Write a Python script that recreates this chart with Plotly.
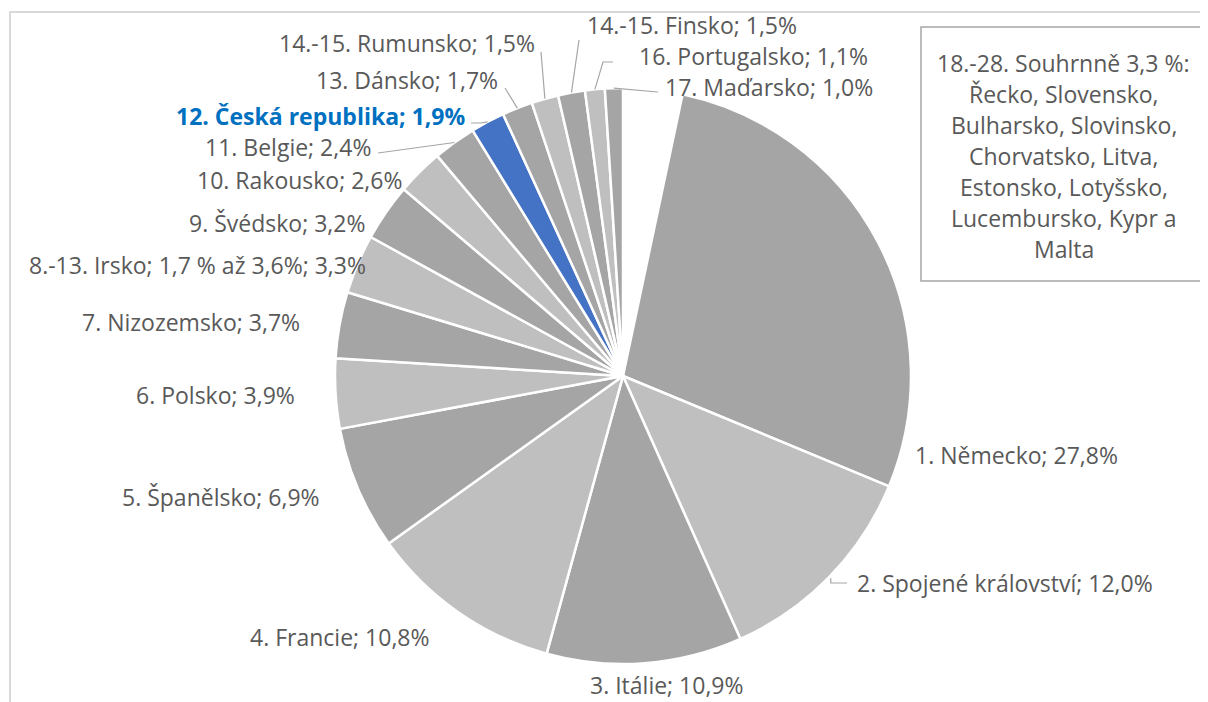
import math
import plotly.graph_objects as go

# ---------------- data ----------------
countries = ["Souhrnně", "Německo", "Spojené království", "Itálie", "Francie",
             "Španělsko", "Polsko", "Nizozemsko", "Irsko", "Švédsko", "Rakousko",
             "Belgie", "Česká republika", "Dánsko", "Rumunsko", "Finsko",
             "Portugalsko", "Maďarsko"]
ranks = ["18.-28.", "1.", "2.", "3.", "4.", "5.", "6.", "7.", "8.-13.", "9.", "10.",
         "11.", "12.", "13.", "14.-15.", "14.-15.", "16.", "17."]
shares = [3.3, 27.8, 12.0, 10.9, 10.8, 6.9, 3.9, 3.7, 3.3, 3.2, 2.6, 2.4, 1.9,
          1.7, 1.5, 1.5, 1.1, 1.0]
irsko_note = "1,7 % až 3,6%"
rest_countries = ["Řecko", "Slovensko", "Bulharsko", "Slovinsko", "Chorvatsko",
                  "Litva", "Estonsko", "Lotyšsko", "Lucembursko", "Kypr", "Malta"]

DARK, LIGHT, BLUE = "#A5A5A5", "#BFBFBF", "#4472C4"
colors = ["#FFFFFF"] + [DARK if i % 2 == 0 else LIGHT for i in range(len(shares) - 1)]
colors[countries.index("Česká republika")] = BLUE

def fmt(v):
    return f"{v:.1f}".replace(".", ",")

labels = []
for c, rk, v in zip(countries, ranks, shares):
    if c == "Irsko":
        labels.append(f"{rk} {c}; {irsko_note}; {fmt(v)}%")
    else:
        labels.append(f"{rk} {c}; {fmt(v)}%")

# ---------------- layout geometry (window pixels) ----------------
OFF = 8                      # default body margin of the page
W, H = 1208 - OFF, 702 - OFF  # figure size so it fits the window exactly
CX, CY, R = 623, 376, 288
FONT = "Open Sans"
FS = 23
TXT = "#595959"

def px(x):
    return (x - OFF) / W

def py(y):
    return 1 - (y - OFF) / H

# label anchor positions (pixels): x, y, xanchor
label_pos = {
    1: (913, 455, "left"),
    2: (855, 583, "left"),
    3: (667, 685, "center"),
    4: (432, 637, "right"),
    5: (322, 497, "right"),
    6: (297, 395, "right"),
    7: (302, 322, "right"),
    8: (368, 265, "right"),
    9: (367, 223, "right"),
    10: (404, 180, "right"),
    11: (373, 147, "right"),
    12: (467, 116, "right"),
    13: (500, 80, "right"),
    14: (537, 43, "right"),
    15: (585, 25, "left"),
    16: (637, 56, "left"),
    17: (663, 87, "left"),
}
# leader lines: points on the label side (pixels), line ends on the slice edge
leaders = {
    11: [(378, 153)],
    12: [(471, 123), (481, 123)],
    13: [(505, 88)],
    14: [(541, 52)],
    15: [(579, 40)],
    16: [(613, 62), (603, 62)],
    17: [(658, 92)],
}

total = sum(shares)
cum = 0.0
mids = []
for v in shares:
    mids.append(360.0 * (cum + v / 2) / total)
    cum += v

def edge_point(i, extra=0):
    a = math.radians(mids[i])
    return CX + (R + extra) * math.sin(a), CY - (R + extra) * math.cos(a)

fig = go.Figure()
fig.add_trace(go.Pie(
    values=shares,
    labels=countries,
    sort=False,
    direction="clockwise",
    rotation=0,
    marker=dict(colors=colors, line=dict(color="#FFFFFF", width=2.5)),
    textinfo="none",
    hoverinfo="label+value",
    showlegend=False,
    domain=dict(x=[px(CX - R), px(CX + R)], y=[py(CY + R), py(CY - R)]),
))

annotations = []
for i, (x, y, anc) in label_pos.items():
    is_cz = countries[i] == "Česká republika"
    annotations.append(dict(
        x=px(x), y=py(y), xref="paper", yref="paper",
        xanchor=anc, yanchor="middle", showarrow=False,
        text=f"<b>{labels[i]}</b>" if is_cz else labels[i],
        font=dict(family=FONT, size=FS, color="#0070C0" if is_cz else TXT),
    ))

shapes = []
# chart area border
shapes.append(dict(type="rect", xref="paper", yref="paper",
                   x0=px(10), x1=px(1208 + 20), y0=py(702 + 20), y1=py(12),
                   line=dict(color="#D9D9D9", width=2)))
# leader lines
for i, pts in leaders.items():
    ex, ey = edge_point(i)
    path_pts = pts + [(ex, ey)]
    d = "M " + " L ".join(f"{px(a)},{py(b)}" for a, b in path_pts)
    shapes.append(dict(type="path", xref="paper", yref="paper", path=d,
                       line=dict(color="#A6A6A6", width=1.2)))
# bracket for Spojené království
i_uk = countries.index("Spojené království")
ex, ey = edge_point(i_uk, extra=2)
d = f"M {px(ex)},{py(ey)} L {px(ex)},{py(583)} L {px(847)},{py(583)}"
shapes.append(dict(type="path", xref="paper", yref="paper", path=d,
                   line=dict(color="#A6A6A6", width=1.2)))

# text box with the rest of countries
shapes.append(dict(type="rect", xref="paper", yref="paper",
                   x0=px(921), x1=px(1206), y0=py(281), y1=py(27),
                   line=dict(color="#A6A6A6", width=1.5), fillcolor="#FFFFFF"))
box_lines = [
    f"{ranks[0]} {countries[0]} {fmt(shares[0])} %:",
    f"{rest_countries[0]}, {rest_countries[1]},",
    f"{rest_countries[2]}, {rest_countries[3]},",
    f"{rest_countries[4]}, {rest_countries[5]},",
    f"{rest_countries[6]}, {rest_countries[7]},",
    f"{rest_countries[8]}, {rest_countries[9]} a",
    f"{rest_countries[10]}",
]
for k, t in enumerate(box_lines):
    annotations.append(dict(
        x=px(1063.5), y=py(63 + 31 * k), xref="paper", yref="paper",
        xanchor="center", yanchor="middle", showarrow=False, text=t,
        font=dict(family=FONT, size=FS, color=TXT),
    ))

fig.update_layout(
    width=W, height=H,
    margin=dict(l=0, r=0, t=0, b=0),
    paper_bgcolor="#FFFFFF", plot_bgcolor="#FFFFFF",
    annotations=annotations, shapes=shapes,
    font=dict(family=FONT, color=TXT),
)
fig.write_html("out.html")
